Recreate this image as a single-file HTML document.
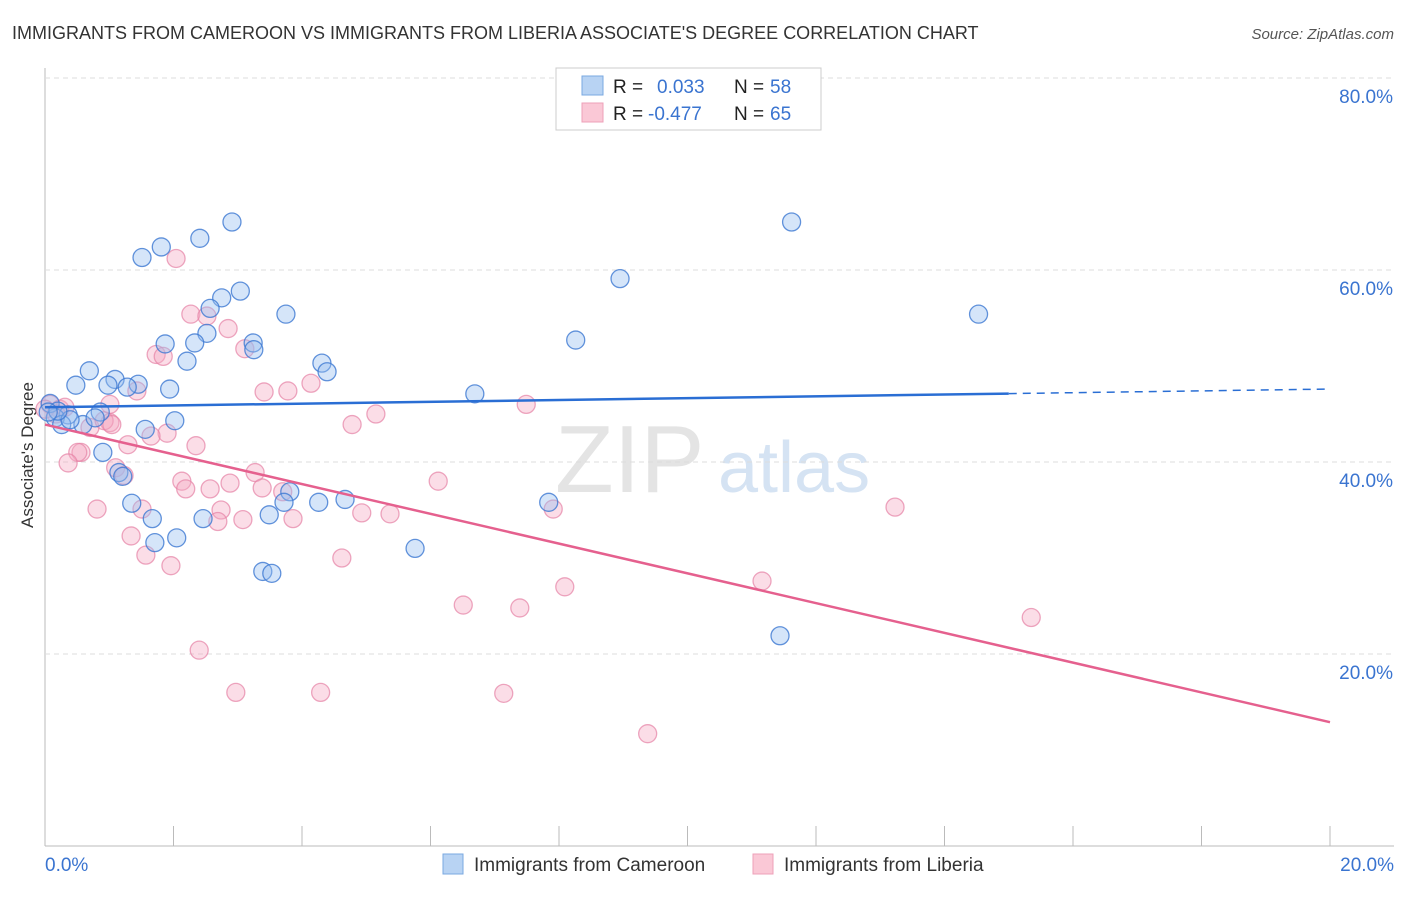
<!DOCTYPE html>
<html><head><meta charset="utf-8"><style>
body{margin:0;background:#fff;font-family:"Liberation Sans",sans-serif;}
svg text{font-family:"Liberation Sans",sans-serif;}
</style></head><body>
<svg id="c" width="1406" height="892">
<text x="12" y="39" font-size="18" fill="#333">IMMIGRANTS FROM CAMEROON VS IMMIGRANTS FROM LIBERIA ASSOCIATE'S DEGREE CORRELATION CHART</text>
<text x="1394" y="39" font-size="15" fill="#555" font-style="italic" text-anchor="end">Source: ZipAtlas.com</text>
<text x="33" y="455" font-size="17" fill="#333" text-anchor="middle" transform="rotate(-90 33 455)">Associate's Degree</text>
<text x="555" y="492" font-size="96" fill="#e4e4e4" font-family="Liberation Serif">ZIP</text>
<text x="718" y="492" font-size="72" fill="#d5e3f3">atlas</text>
<g id="grid"></g><g id="pts"></g><g id="lines"></g>
<g>
<rect x="556" y="68" width="265" height="62" fill="#fff" stroke="#ccc"/>
<rect x="582" y="76" width="21" height="19" fill="#b8d3f3" stroke="#7aa8e0"/>
<rect x="582" y="103" width="21" height="19" fill="#fac8d6" stroke="#eea0b8"/>
<text x="613" y="93" font-size="19" fill="#222">R = </text><text x="657" y="93" font-size="19" fill="#3a74d0">0.033</text>
<text x="734" y="93" font-size="19" fill="#222">N = </text><text x="770" y="93" font-size="19" fill="#3a74d0">58</text>
<text x="613" y="120" font-size="19" fill="#222">R = </text><text x="648" y="120" font-size="19" fill="#3a74d0">-0.477</text>
<text x="734" y="120" font-size="19" fill="#222">N = </text><text x="770" y="120" font-size="19" fill="#3a74d0">65</text>
</g>
<g>
<rect x="443" y="854" width="20" height="20" fill="#b8d3f3" stroke="#7aa8e0"/>
<text x="474" y="871" font-size="19" fill="#333">Immigrants from Cameroon</text>
<rect x="753" y="854" width="20" height="20" fill="#fac8d6" stroke="#eea0b8"/>
<text x="784" y="871" font-size="19" fill="#333">Immigrants from Liberia</text>
</g>
</svg>
<script>
const yTicks=[20,40,60,80];
const yTickLabels=["20.0%","40.0%","60.0%","80.0%"];
const xTickLabels=["0.0%","20.0%"];
const blueX=[1.51,1.81,2.41,2.91,11.62,8.95,3.04,2.75,2.57,3.75,14.53,8.26,2.52,1.87,2.33,3.24,3.25,2.21,4.31,4.39,0.69,1.09,0.48,0.98,1.45,1.28,1.94,6.69,0.36,0.16,0.26,0.59,0.86,2.02,1.56,0.39,0.78,0.90,1.15,1.21,3.81,1.35,4.26,4.67,3.72,7.84,1.67,3.49,2.46,2.05,1.71,5.76,3.39,3.53,11.44,0.08,0.20,0.05];
const blueY=[61.3,62.4,63.3,65.0,65.0,59.1,57.8,57.1,56.0,55.4,55.4,52.7,53.4,52.3,52.4,52.4,51.7,50.5,50.3,49.4,49.5,48.6,48.0,48.0,48.1,47.8,47.6,47.1,44.9,44.6,43.9,43.9,45.2,44.3,43.4,44.4,44.6,41.0,38.9,38.5,36.9,35.7,35.8,36.1,35.8,35.8,34.1,34.5,34.1,32.1,31.6,31.0,28.6,28.4,21.9,46.1,45.3,45.2];
const pinkX=[2.04,2.27,2.52,2.85,3.11,1.73,1.84,1.43,3.41,3.78,4.14,7.49,5.15,4.78,1.01,0.70,0.92,1.04,1.29,1.90,1.65,2.35,0.56,0.51,0.36,1.10,1.23,2.13,2.19,2.57,3.27,2.88,3.38,6.12,0.81,1.51,3.70,2.74,2.69,3.08,3.86,4.93,5.37,7.91,13.23,1.34,1.57,4.62,1.96,8.09,11.16,6.51,7.39,15.35,2.40,2.97,4.29,7.14,9.38,0.08,0.23,0.31,0.17,0.0,1.01];
const pinkY=[61.2,55.4,55.2,53.9,51.8,51.2,51.0,47.4,47.3,47.4,48.2,46.0,45.0,43.9,44.1,43.6,44.3,43.9,41.8,43.0,42.7,41.7,41.0,41.0,39.9,39.4,38.6,38.0,37.2,37.2,38.9,37.8,37.3,38.0,35.1,35.1,36.9,35.0,33.8,34.0,34.1,34.7,34.6,35.1,35.3,32.3,30.3,30.0,29.2,27.0,27.6,25.1,24.8,23.8,20.4,16.0,16.0,15.9,11.7,46.0,45.5,45.7,45.0,45.5,46.0];
const blueTrend=[45.7,47.6];
const pinkTrend=[43.9,12.9];
const X=v=>45+v/20*1285, Y=v=>846-v*9.6;
const NS="http://www.w3.org/2000/svg";
function mk(tag,a,p){const e=document.createElementNS(NS,tag);for(const k in a)e.setAttribute(k,a[k]);p.appendChild(e);return e;}
const grid=document.getElementById('grid');
let ax=mk('line',{x1:45,y1:68,x2:45,y2:846,stroke:'#bbb'},grid);


let bx=mk('line',{x1:45,y1:846,x2:1394,y2:846,stroke:'#bbb'},grid);


yTicks.forEach((t,i)=>{
 const g=mk('line',{x1:45,y1:Y(t),x2:1394,y2:Y(t),stroke:'#ddd','stroke-dasharray':'5,4'},grid);
 
 
 const l=mk('text',{x:1393,y:Y(t)+25,'font-size':19,fill:'#3a74d0','text-anchor':'end'},grid);
 l.textContent=yTickLabels[i];
 
 
});
for(let i=0;i<=10;i++){const x=45+i*128.5;const t=mk('line',{x1:x,y1:826,x2:x,y2:846,stroke:'#bbb'},grid);
 
 }
xTickLabels.forEach((s,i)=>{const l=mk('text',{x:i?1394:45,y:871,'font-size':19,fill:'#3a74d0','text-anchor':i?'end':'start'},grid);l.textContent=s;
 
 });
const pts=document.getElementById('pts');
pinkX.forEach((v,i)=>{const c=mk('circle',{cx:X(v),cy:Y(pinkY[i]),r:9,fill:'rgba(245,170,195,0.4)',stroke:'rgba(230,130,165,0.7)','stroke-width':1.3},pts);
 
 });
blueX.forEach((v,i)=>{const c=mk('circle',{cx:X(v),cy:Y(blueY[i]),r:9,fill:'rgba(150,190,240,0.4)',stroke:'rgba(60,120,210,0.8)','stroke-width':1.3},pts);
 
 });
const ln=document.getElementById('lines');
const bAt=x=>blueTrend[0]+(blueTrend[1]-blueTrend[0])*x/20;
let b1=mk('line',{x1:X(0),y1:Y(bAt(0)),x2:X(15),y2:Y(bAt(15)),stroke:'#2a6ed4','stroke-width':2.5},ln);


let b2=mk('line',{x1:X(15),y1:Y(bAt(15)),x2:X(20),y2:Y(bAt(20)),stroke:'#2a6ed4','stroke-width':1.5,'stroke-dasharray':'8,6'},ln);


let p1=mk('line',{x1:X(0),y1:Y(pinkTrend[0]),x2:X(20),y2:Y(pinkTrend[1]),stroke:'#e5608e','stroke-width':2.5},ln);


</script>
</body></html>
